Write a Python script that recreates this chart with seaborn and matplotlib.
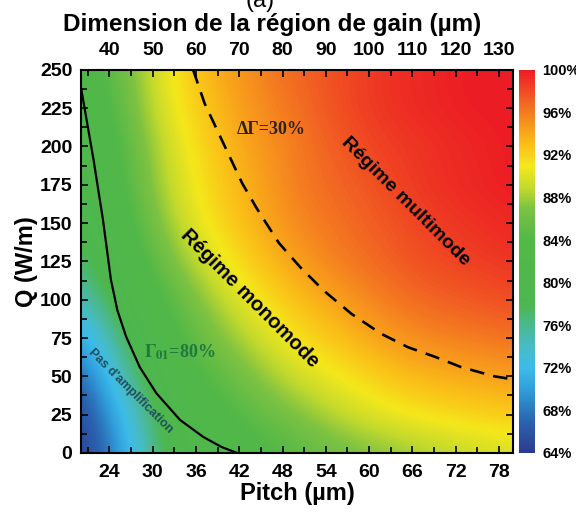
import numpy as np
import matplotlib
matplotlib.use("Agg")
import matplotlib.pyplot as plt
import seaborn as sns
from matplotlib.colors import LinearSegmentedColormap
from matplotlib.ticker import MultipleLocator

# overlap values (%), one row per Q level
pitch = [20, 26, 32, 38, 44, 50, 56, 62, 68, 74, 80]
q_levels = [0, 25, 50, 75, 100, 125, 150, 175, 200, 225, 250]
gamma_q0 = [64, 70, 79, 81.5, 83, 84.5, 86, 87, 88, 89, 89.5]
gamma_q25 = [64.5, 72, 80, 83, 85, 87, 89, 90.5, 91.5, 92, 92.5]
gamma_q50 = [66.5, 75, 81.5, 84.5, 87, 89.5, 91, 92.5, 93.5, 94, 94.5]
gamma_q75 = [70, 77.5, 83, 86.5, 89, 91.5, 93, 94.5, 95.5, 96, 96.5]
gamma_q100 = [74, 80, 84.5, 88, 91, 93, 94.5, 96, 97, 97.5, 98]
gamma_q125 = [76.5, 81.5, 86.5, 90, 92.5, 94.5, 96, 97, 98, 98.5, 99]
gamma_q150 = [78, 83, 88, 91.5, 93.5, 95.5, 96.5, 97.5, 98.5, 99, 99.5]
gamma_q175 = [79, 84, 89, 92, 94, 96, 97, 98, 99, 99.5, 100]
gamma_q200 = [80, 84.5, 89.5, 92.5, 94.5, 96, 97.5, 98.5, 99, 99.5, 100]
gamma_q225 = [81, 85.5, 90.5, 93, 95, 96.5, 98, 99, 99.5, 100, 100]
gamma_q250 = [82, 86, 91, 93.5, 95.5, 97, 98, 99, 99.5, 100, 100]

# Gamma01 = 80% boundary (solid)
mono_pitch = [20.1, 21.8, 23.1, 24.2, 25.1, 26.3, 28.2, 30.5, 33.8, 37.0, 39.5, 41.7]
mono_q = [237, 191, 152, 113, 93, 76, 56, 39, 21.5, 10.5, 4, 0]

# Delta Gamma = 30% boundary (dashed)
multi_pitch = [35.6, 37.2, 38.9, 40.7, 42.4, 44.5, 47.5, 50.5, 53.7, 57.5,
               61.6, 65.4, 69.0, 72.8, 77.4, 80.0]
multi_q = [250, 228, 211, 193, 176, 159, 137, 121, 106, 91, 78, 69, 63, 56, 50, 48]

cbar_ticks = [64, 68, 72, 76, 80, 84, 88, 92, 96, 100]
top_ticks = [40, 50, 60, 70, 80, 90, 100, 110, 120, 130]

# colour scale
cmap_vals = [64, 67, 70, 72, 74, 76, 78, 84, 87, 89, 91, 93, 95, 97, 100]
cmap_cols = ['#2c3b8e', '#2a64b0', '#30a0dc', '#3dbbe9', '#47bcc6', '#4bb88f',
             '#4db74f', '#52b848', '#7dc242', '#c4da2c', '#f4e81c', '#fbbf18',
             '#f7941d', '#f26522', '#ec1c24']
pos = [(v - 64) / 36 for v in cmap_vals]
cmap = LinearSegmentedColormap.from_list("gain", list(zip(pos, cmap_cols)))

sns.set_theme(style="ticks")
plt.rcParams['font.family'] = ['Liberation Sans', 'DejaVu Sans']
plt.rcParams['mathtext.fontset'] = 'stix'
plt.rcParams['font.weight'] = 'bold'
for key in ['text.color', 'axes.labelcolor', 'xtick.color', 'ytick.color']:
    plt.rcParams[key] = 'black'

fig = plt.figure(figsize=(5.76, 5.13), dpi=100)
ax = fig.add_axes([0.140, 0.117, 0.751, 0.747])
cax = fig.add_axes([0.901, 0.117, 0.028, 0.747])

G = np.array([gamma_q0, gamma_q25, gamma_q50, gamma_q75, gamma_q100, gamma_q125,
              gamma_q150, gamma_q175, gamma_q200, gamma_q225, gamma_q250])
dp = (pitch[1] - pitch[0]) / 2
dq = (q_levels[1] - q_levels[0]) / 2
img = ax.imshow(G, origin='lower', aspect='auto', interpolation='bicubic',
                cmap=cmap, vmin=64, vmax=100,
                extent=(pitch[0] - dp, pitch[-1] + dp, q_levels[0] - dq, q_levels[-1] + dq))

sns.lineplot(x=mono_pitch, y=mono_q, sort=False, estimator=None,
             color='black', lw=1.6, ax=ax)
sns.lineplot(x=multi_pitch, y=multi_q, sort=False, estimator=None,
             color='black', lw=1.9, linestyle=(0, (5.5, 3.5)), ax=ax)

ax.set_xlim(20, 80)
ax.set_ylim(0, 250)
ax.set_xticks(range(24, 79, 6))
ax.set_yticks(range(0, 251, 25))
ax.xaxis.set_minor_locator(MultipleLocator(3))
ax.yaxis.set_minor_locator(MultipleLocator(12.5))
ax.tick_params(which='both', direction='in', top=True, right=True,
               color='black', width=1.2)
ax.tick_params(which='major', length=5, labelsize=14)
ax.tick_params(which='minor', length=4)
ax.tick_params(axis='x', pad=8)
ax.tick_params(axis='y', pad=6)
for s in ax.spines.values():
    s.set_linewidth(1.5)
    s.set_color('black')
for lab in ax.get_xticklabels() + ax.get_yticklabels():
    lab.set_fontweight('bold')

ax.set_xlabel('Pitch (µm)', fontsize=17, fontweight='bold', labelpad=1)
ax.set_ylabel('Q (W/m)', fontsize=17, fontweight='bold', labelpad=1)

sec = ax.secondary_xaxis('top', functions=(lambda p: p * 5 / 3, lambda d: d * 3 / 5))
sec.set_xticks(top_ticks)
sec.tick_params(length=0, labelsize=14, pad=8)
for lab in sec.get_xticklabels():
    lab.set_fontweight('bold')
fig.text(272 / 576, 1 - 24 / 513, 'Dimension de la région de gain (µm)',
         fontsize=17.5, fontweight='bold', ha='center', va='center')

# annotations
ax.text(46.5, 211, 'ΔΓ=30%', fontsize=13, family='Liberation Serif',
        color='#2e2218', ha='center', va='center')
ax.text(65, 164, 'Régime multimode', fontsize=14, fontweight='bold',
        rotation=-45, ha='center', va='center', rotation_mode='anchor')
ax.text(43.5, 101, 'Régime monomode', fontsize=14.5, fontweight='bold',
        rotation=-45, ha='center', va='center', rotation_mode='anchor')
ax.text(33.8, 66, r'$\Gamma_{01}$=80%', fontsize=13, family='Liberation Serif',
        color='#22773a', ha='center', va='center')
ax.text(26.9, 40.5, "Pas d'amplification", fontsize=9, fontweight='bold',
        color='#1f4e5f', rotation=-45, ha='center', va='center',
        rotation_mode='anchor')

cb = fig.colorbar(img, cax=cax, ticks=cbar_ticks)
cb.outline.set_visible(False)
cb.ax.tick_params(length=0, labelsize=10.5, pad=5)
cb.ax.set_yticklabels([f'{t}%' for t in cbar_ticks], fontweight='bold')

fig.text(0.452, 0.998, '(a)', fontsize=17, ha='center', va='center',
         fontweight='normal')

fig.savefig('out.png', dpi=100)
